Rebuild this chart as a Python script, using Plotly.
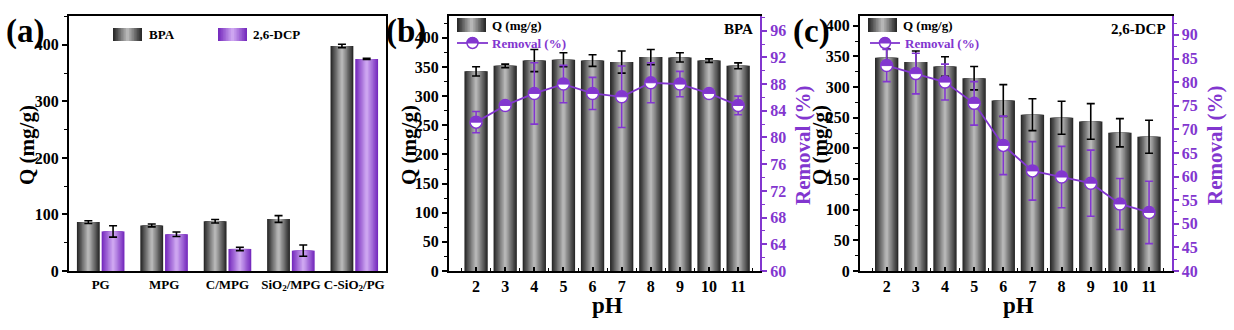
import plotly.graph_objects as go

W, H = 1234, 330

# ---------------- data ----------------
cats_a = ["PG", "MPG", "C/MPG", "SiO<sub>2</sub>/MPG", "C-SiO<sub>2</sub>/PG"]
bpa_q = [86.5, 80.5, 88, 92, 398]
bpa_q_err = [2.5, 2.5, 3, 6, 3]
dcp_q = [70, 65, 39, 36, 375]
dcp_q_err = [10, 4, 3, 10, 1]

ph = [2, 3, 4, 5, 6, 7, 8, 9, 10, 11]
b_q = [342.5, 352, 361, 362.5, 361, 358.5, 367, 366.5, 361, 352]
b_q_err = [8, 3, 19, 12, 10, 19, 13, 8, 3, 5]
b_rem = [82.3, 84.8, 86.6, 88.0, 86.6, 86.1, 88.2, 88.0, 86.6, 84.8]
b_rem_err = [1.6, 0.6, 4.6, 2.8, 2.4, 4.6, 3.0, 1.9, 0.6, 1.4]

c_q = [348, 341, 333.5, 314.5, 278, 255, 250, 244, 225.5, 219]
c_q_err = [14, 18, 16, 19, 26, 26, 27, 29, 23, 27]
c_rem = [83.5, 81.8, 80.0, 75.5, 66.6, 61.2, 59.9, 58.6, 54.2, 52.4]
c_rem_err = [3.4, 4.3, 3.8, 4.6, 6.2, 6.2, 6.5, 7.0, 5.4, 6.6]

# ---------------- style ----------------
FONT = "Liberation Serif"
PURPLE = "#8236cf"
GREY_EDGE, GREY_MID = (42, 42, 42), (182, 182, 182)
PUR_EDGE, PUR_MID = (118, 44, 190), (205, 165, 240)
K = 9
R = 5.5          # marker radius (px)
KB = 0.5523      # bezier constant for circular arcs
HALF = ("M %.2f,0 C %.2f,%.2f %.2f,%.2f 0,%.2f C %.2f,%.2f %.2f,%.2f %.2f,0 Z"
        % (-R, -R, KB * R, -KB * R, R, R, KB * R, R, R, KB * R, R))


def lerp(c0, c1, t):
    return "rgb(%d,%d,%d)" % tuple(round(a + (b - a) * t) for a, b in zip(c0, c1))


def xp(px):
    return px / W


def yp(py):
    return 1 - py / H


fig = go.Figure()
shapes = []


def grad_bars(x, y, err, width, offset, edge, mid, xa, ya, errcolor="black", errw=4):
    for i in range(K):
        t = i / (K - 1)
        w = width * (1 - i / K)
        kw = dict(x=x, y=y, width=[w] * len(x), marker=dict(color=lerp(edge, mid, t), line=dict(width=0)),
                  xaxis=xa, yaxis=ya, showlegend=False, hoverinfo="skip")
        if offset is not None:
            kw["offset"] = [offset + (width - w) / 2] * len(x)
        if i == K - 1:
            kw["error_y"] = dict(type="data", array=err, color=errcolor, thickness=1.6, width=errw)
        fig.add_trace(go.Bar(**kw))


def removal(x, y, err, xa, ya):
    fig.add_trace(go.Scatter(x=x, y=y, mode="lines+markers", xaxis=xa, yaxis=ya,
                             line=dict(color=PURPLE, width=1.8),
                             marker=dict(symbol="circle", size=2 * R + 1, color="white",
                                         line=dict(color=PURPLE, width=1.5)),
                             error_y=dict(type="data", array=err, color=PURPLE, thickness=1.6, width=4),
                             showlegend=False, hoverinfo="skip"))
    # upper half of each marker filled (half-filled circle symbol)
    for xv, yv in zip(x, y):
        shapes.append(dict(type="path", xref=xa, yref=ya, xsizemode="pixel", ysizemode="pixel",
                           xanchor=xv, yanchor=yv, path=HALF, fillcolor=PURPLE,
                           line=dict(color=PURPLE, width=1)))


# panel (a)
grad_bars(cats_a, bpa_q, bpa_q_err, 0.36, -0.375, GREY_EDGE, GREY_MID, "x", "y")
grad_bars(cats_a, dcp_q, dcp_q_err, 0.36, 0.015, PUR_EDGE, PUR_MID, "x", "y")

# panel (b)
grad_bars(ph, b_q, b_q_err, 0.8, None, GREY_EDGE, GREY_MID, "x2", "y2")
removal(ph, b_rem, b_rem_err, "x2", "y3")

# panel (c)
grad_bars(ph, c_q, c_q_err, 0.8, None, GREY_EDGE, GREY_MID, "x3", "y4")
removal(ph, c_rem, c_rem_err, "x3", "y5")

TICKF = dict(family=FONT, size=16, color="black", weight="bold")
TICKP = dict(family=FONT, size=16, color=PURPLE, weight="bold")
ydom = [yp(271), yp(16)]


def xax(dom, anchor, **kw):
    d = dict(domain=dom, anchor=anchor, showline=True, linecolor="black", linewidth=2, mirror=True,
             ticks="inside", ticklen=4, tickwidth=1.5, tickcolor="black", showgrid=False, zeroline=False,
             tickfont=TICKF, automargin=False)
    d.update(kw)
    return d


def yax(anchor, rng, dtick, mdtick, color="black", **kw):
    d = dict(domain=ydom, anchor=anchor, range=rng, dtick=dtick, tick0=rng[0], showline=True, linecolor=color,
             linewidth=2, ticks="outside", ticklen=5, tickwidth=1.5, tickcolor=color, showgrid=False,
             zeroline=False, tickfont=TICKF if color == "black" else TICKP, automargin=False,
             minor=dict(ticks="outside", ticklen=3, tickwidth=1.2, tickcolor=color, dtick=mdtick))
    d.update(kw)
    return d


XMINOR = dict(ticks="inside", ticklen=3, tickwidth=1.2, tickcolor="black", tick0=1.5, dtick=1)

fig.update_layout(
    width=W, height=H, margin=dict(l=0, r=0, t=0, b=0, autoexpand=False),
    paper_bgcolor="white", plot_bgcolor="white", barmode="overlay",
    font=dict(family=FONT, color="black"),
    xaxis=xax([xp(69), xp(386)], "y", type="category", range=[-0.5, 4.5], ticks="",
              tickfont=dict(family=FONT, size=13, color="black", weight="bold")),
    yaxis=yax("x", [0, 451], 100, 50, mirror=True),
    xaxis2=xax([xp(449), xp(760)], "y2", range=[1.07, 11.75], tickvals=ph, minor=XMINOR),
    yaxis2=yax("x2", [0, 437.5], 50, 25),
    yaxis3=yax("x2", [60, 98.2], 4, 2, color=PURPLE, overlaying="y2", side="right"),
    xaxis3=xax([xp(860), xp(1171.5)], "y4", range=[1.085, 11.77], tickvals=ph, minor=XMINOR),
    yaxis4=yax("x3", [0, 416], 50, 25),
    yaxis5=yax("x3", [40, 94], 5, 2.5, color=PURPLE, overlaying="y4", side="right"),
)

ann = []


def text(x, y, s, size, color="black", xanchor="center", angle=0, weight="bold"):
    ann.append(dict(x=xp(x), y=yp(y), xref="paper", yref="paper", text=s, showarrow=False,
                    xanchor=xanchor, yanchor="middle", textangle=angle,
                    font=dict(family=FONT, size=size, color=color, weight=weight)))


# panel letters
text(4, 32, "(a)", 33, xanchor="left")
text(384, 32, "(b)", 33, xanchor="left")
text(791, 32, "(c)", 33, xanchor="left")
# axis titles
text(27, 145, "Q (mg/g)", 21, angle=-90)
text(409, 145, "Q (mg/g)", 21, angle=-90)
text(803, 145, "Removal (%)", 21, color=PURPLE, angle=-90)
text(820, 145, "Q (mg/g)", 21, angle=-90)
text(1215, 145, "Removal (%)", 21, color=PURPLE, angle=-90)
text(607, 305, "pH", 23)
text(1018, 305, "pH", 23)
# corner labels
text(755, 29, "BPA", 15, xanchor="right")
text(1168, 29, "2,6-DCP", 15, xanchor="right")


def swatch(x0, x1, y0, y1, edge, mid):
    for i in range(K):
        t = i / (K - 1)
        w = (x1 - x0) * (1 - i / K)
        c = (x0 + x1) / 2
        shapes.append(dict(type="rect", xref="paper", yref="paper", x0=xp(c - w / 2), x1=xp(c + w / 2),
                           y0=yp(y1), y1=yp(y0), fillcolor=lerp(edge, mid, t), line=dict(width=0)))


def rem_legend(x0, x1, y):
    shapes.append(dict(type="line", xref="paper", yref="paper", x0=xp(x0), x1=xp(x1), y0=yp(y), y1=yp(y),
                       line=dict(color=PURPLE, width=1.8)))
    c = (x0 + x1) / 2
    shapes.append(dict(type="circle", xref="paper", yref="paper", x0=xp(c - R), x1=xp(c + R),
                       y0=yp(y + R), y1=yp(y - R), fillcolor="white", line=dict(color=PURPLE, width=1.5)))
    shapes.append(dict(type="path", xref="paper", yref="paper", xsizemode="pixel", ysizemode="pixel",
                       xanchor=xp(c), yanchor=yp(y), path=HALF, fillcolor=PURPLE,
                       line=dict(color=PURPLE, width=1)))


# legend (a)
swatch(113, 142, 28, 41, GREY_EDGE, GREY_MID)
text(147, 34, "BPA", 13, xanchor="left")
swatch(218, 247, 28, 41, PUR_EDGE, PUR_MID)
text(251, 34, "2,6-DCP", 13, xanchor="left")
# legend (b)
swatch(457, 486, 18, 32, GREY_EDGE, GREY_MID)
text(490, 25, "Q (mg/g)", 13, xanchor="left")
rem_legend(457, 488, 43)
text(490, 43, "Removal (%)", 13, color=PURPLE, xanchor="left")
# legend (c)
swatch(868, 897, 18, 32, GREY_EDGE, GREY_MID)
text(901, 25, "Q (mg/g)", 13, xanchor="left")
rem_legend(870, 900, 43)
text(903, 43, "Removal (%)", 13, color=PURPLE, xanchor="left")

fig.update_layout(annotations=ann, shapes=shapes)
fig.write_html("out.html", post_script="document.body.style.margin='0';")
